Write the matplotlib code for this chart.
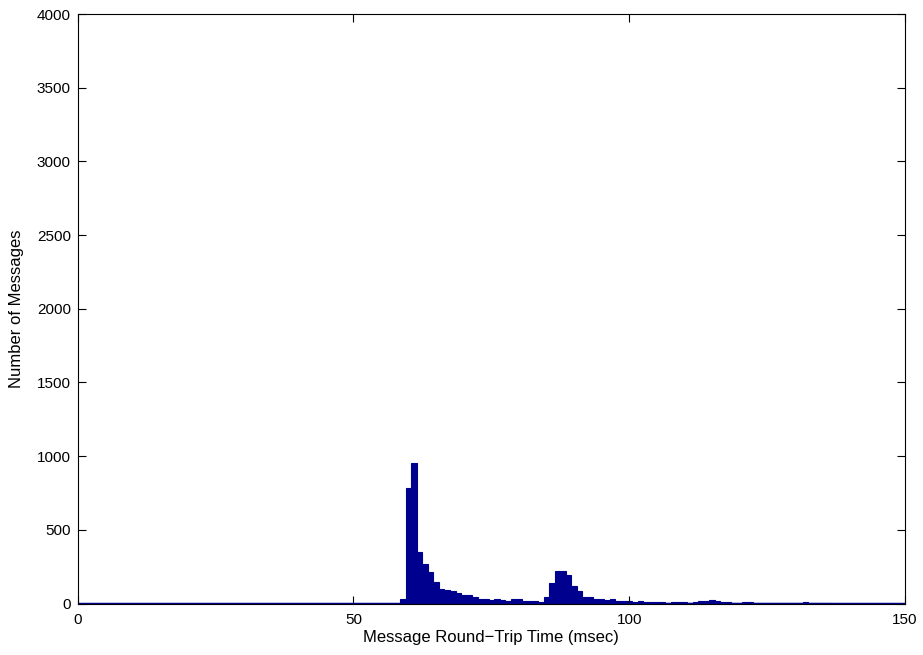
import numpy as np
import matplotlib
matplotlib.use("Agg")
import matplotlib.pyplot as plt

plt.rcParams["font.family"] = ["Liberation Sans", "DejaVu Sans"]

# histogram bins of 1 msec, centred on integers 0..150
bin_centers = np.arange(0, 151)
first_bin = 59
# counts, starting at bin 59 msec
counts_from_59 = [
    30, 782, 955, 352, 266, 214, 144, 97, 90, 82,
    68, 57, 55, 45, 32, 32, 24, 30, 24, 17,
    30, 33, 18, 18, 18, 9, 41, 136, 224, 219,
    195, 122, 84, 45, 45, 29, 29, 22, 34, 20,
    18, 18, 8, 16, 10, 10, 7, 10, 5, 7,
    7, 10, 5, 13, 20, 20, 24, 16, 13, 10,
    5, 5, 7, 7, 5, 4, 3, 4, 3, 3,
    3, 4, 3, 7, 3, 2, 4, 2,
]

counts = np.zeros(len(bin_centers))
counts[first_bin:first_bin + len(counts_from_59)] = counts_from_59

fig = plt.figure(figsize=(9.23, 6.55), dpi=100)
ax = fig.add_axes([0.0842, 0.0786, 0.8963, 0.900])

bar_color = "#00008F"
ax.bar(bin_centers, counts, width=1.0, color=bar_color,
       edgecolor=bar_color, linewidth=0.8, align="center")
# empty bins still show their edge along the baseline, as in the original
ax.axhline(0, color=bar_color, linewidth=2.5, zorder=3)

ax.set_xlim(0, 150)
ax.set_ylim(0, 4000)
ax.set_xticks([0, 50, 100, 150])
ax.set_yticks(np.arange(0, 4001, 500))

ax.tick_params(direction="in", length=5.5, width=0.8, labelsize=11,
               top=True, right=True, colors="black")
ax.tick_params(axis="x", pad=7)
ax.tick_params(axis="y", pad=5)
for s in ax.spines.values():
    s.set_linewidth(0.8)
    s.set_zorder(5)

ax.set_xlabel("Message Round\u2212Trip Time (msec)", fontsize=12, labelpad=2)
ax.set_ylabel("Number of Messages", fontsize=12, labelpad=9)

fig.savefig("out.png", dpi=100)
